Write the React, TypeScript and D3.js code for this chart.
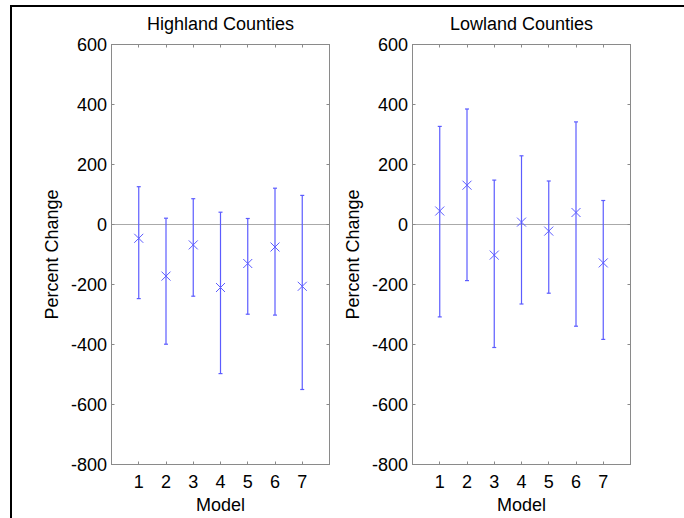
import React, { useRef, useEffect } from "react";
import { select, scaleLinear, range } from "d3";

const models = [1, 2, 3, 4, 5, 6, 7];
const yTicks = [600, 400, 200, 0, -200, -400, -600, -800];

const highlandMean = [-46, -172, -68, -210, -130, -75, -206];
const highlandUpper = [126, 21, 86, 41, 20, 121, 97];
const highlandLower = [-247, -399, -239, -497, -299, -302, -550];

const lowlandMean = [45, 131, -102, 8, -22, 40, -128];
const lowlandUpper = [327, 385, 148, 229, 145, 342, 80];
const lowlandLower = [-308, -187, -410, -265, -229, -339, -383];

const panels = [
  { title: "Highland Counties", mean: highlandMean, upper: highlandUpper, lower: highlandLower, left: 111.5 },
  { title: "Lowland Counties", mean: lowlandMean, upper: lowlandUpper, lower: lowlandLower, left: 412.5 },
];

const W = 684;
const H = 518;
const FONT = "'Liberation Sans', Arial, Helvetica, sans-serif";
const FS = 18;

// snap to pixel centre so 1px axis lines render crisp
const px = (v: number) => Math.round(v - 0.5) + 0.5;

const App = () => {
  const svgRef = useRef<SVGSVGElement>(null);

  useEffect(() => {
    const svg = select(svgRef.current);
    svg.selectAll("*").remove();

    svg.append("rect").attr("width", W).attr("height", H).attr("fill", "#fff");

    // outer figure frame (runs off the right/bottom edge)
    svg
      .append("rect")
      .attr("x", 11)
      .attr("y", 6)
      .attr("width", 720)
      .attr("height", 600)
      .attr("fill", "none")
      .attr("stroke", "#000")
      .attr("stroke-width", 2);

    const top = 44.5;
    const bottom = 464.5;
    const plotW = 218;

    const yScale = scaleLinear().domain([-800, 600]).range([bottom, top]);

    panels.forEach((p) => {
      const xScale = scaleLinear().domain([0, 8]).range([p.left, p.left + plotW]);
      const g = svg.append("g");
      const x0 = xScale(0);
      const x1 = xScale(8);
      const axisColor = "#8a8a8a";

      // zero line (dotted)
      g.append("line")
        .attr("x1", x0)
        .attr("x2", x1)
        .attr("y1", yScale(0))
        .attr("y2", yScale(0))
        .attr("stroke", "#555")
        .attr("stroke-width", 1.2)
        .attr("stroke-dasharray", "1,1");

      // axes box
      g.append("rect")
        .attr("x", x0)
        .attr("y", top)
        .attr("width", x1 - x0)
        .attr("height", bottom - top)
        .attr("fill", "none")
        .attr("stroke", axisColor)
        .attr("stroke-width", 1);

      // y ticks (both sides, inward)
      yTicks.forEach((t) => {
        const y = px(yScale(t));
        g.append("line").attr("x1", x0).attr("x2", x0 + 3).attr("y1", y).attr("y2", y).attr("stroke", axisColor);
        g.append("line").attr("x1", x1).attr("x2", x1 - 3).attr("y1", y).attr("y2", y).attr("stroke", axisColor);
        g.append("text")
          .attr("x", x0 - 4.5)
          .attr("y", yScale(t))
          .attr("dy", "0.36em")
          .attr("text-anchor", "end")
          .attr("font-family", FONT)
          .attr("font-size", FS)
          .attr("fill", "#000")
          .text(t);
      });

      // x ticks (top and bottom, inward)
      models.forEach((m) => {
        const x = px(xScale(m));
        g.append("line").attr("x1", x).attr("x2", x).attr("y1", bottom).attr("y2", bottom - 3).attr("stroke", axisColor);
        g.append("line").attr("x1", x).attr("x2", x).attr("y1", top).attr("y2", top + 3).attr("stroke", axisColor);
        g.append("text")
          .attr("x", xScale(m))
          .attr("y", 488)
          .attr("text-anchor", "middle")
          .attr("font-family", FONT)
          .attr("font-size", FS)
          .attr("fill", "#000")
          .text(m);
      });

      // error bars
      const blue = "#5c5cff";
      range(models.length).forEach((i) => {
        const x = xScale(models[i]);
        const yu = yScale(p.upper[i]);
        const yl = yScale(p.lower[i]);
        const ym = yScale(p.mean[i]);
        g.append("line").attr("x1", x).attr("x2", x).attr("y1", yu).attr("y2", yl).attr("stroke", blue).attr("stroke-width", 1.2);
        g.append("line").attr("x1", x - 2).attr("x2", x + 2).attr("y1", yu).attr("y2", yu).attr("stroke", blue).attr("stroke-width", 1.2);
        g.append("line").attr("x1", x - 2).attr("x2", x + 2).attr("y1", yl).attr("y2", yl).attr("stroke", blue).attr("stroke-width", 1.2);
        const s = 4.5;
        g.append("path")
          .attr("d", `M${x - s},${ym - s}L${x + s},${ym + s}M${x - s},${ym + s}L${x + s},${ym - s}`)
          .attr("stroke", blue)
          .attr("stroke-width", 1)
          .attr("fill", "none");
      });

      // title
      g.append("text")
        .attr("x", (x0 + x1) / 2)
        .attr("y", 30)
        .attr("text-anchor", "middle")
        .attr("font-family", FONT)
        .attr("font-size", FS)
        .attr("fill", "#000")
        .text(p.title);

      // x label
      g.append("text")
        .attr("x", (x0 + x1) / 2)
        .attr("y", 511)
        .attr("text-anchor", "middle")
        .attr("font-family", FONT)
        .attr("font-size", FS)
        .attr("fill", "#000")
        .text("Model");

      // y label
      g.append("text")
        .attr("transform", `translate(${x0 - 53.5},${(top + bottom) / 2}) rotate(-90)`)
        .attr("text-anchor", "middle")
        .attr("font-family", FONT)
        .attr("font-size", FS)
        .attr("fill", "#000")
        .text("Percent Change");
    });
  }, []);

  return (
    <div style={{ position: "absolute", left: 0, top: 0 }}>
      <svg ref={svgRef} width={W} height={H} style={{ display: "block" }} />
    </div>
  );
};

export default App;
